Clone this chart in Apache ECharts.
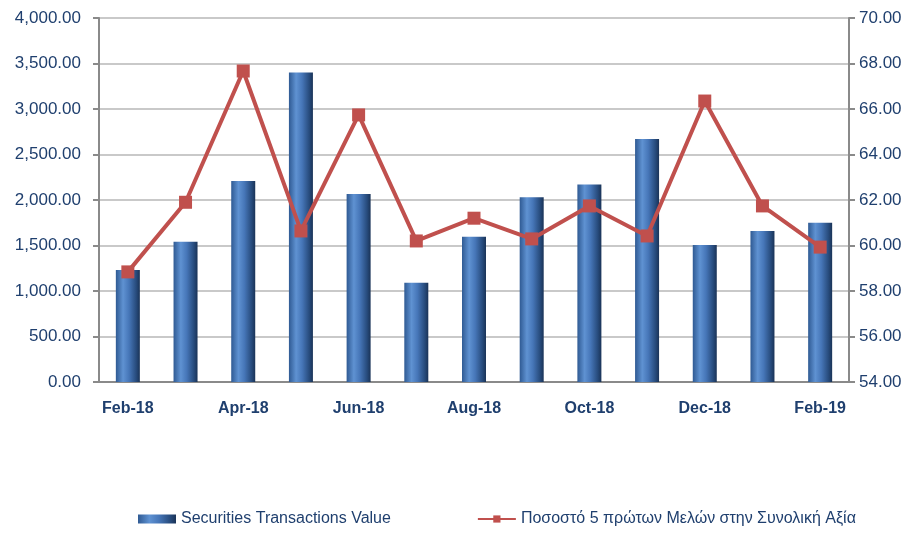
<!DOCTYPE html>
<html>
<head>
<meta charset="utf-8">
<script src="https://cdn.jsdelivr.net/npm/echarts@6/dist/echarts.min.js"></script>
<style>
  html, body { margin: 0; padding: 0; background: #fff; }
  #chart { width: 918px; height: 539px; }
</style>
</head>
<body>
<div id="chart"></div>
<script>
const months = ['Feb-18', 'Mar-18', 'Apr-18', 'May-18', 'Jun-18', 'Jul-18', 'Aug-18',
                'Sep-18', 'Oct-18', 'Nov-18', 'Dec-18', 'Jan-19', 'Feb-19'];
const transactionsValue = [1230, 1540, 2210, 3400, 2065, 1090, 1595, 2030, 2170, 2670, 1505, 1660, 1750];
const top5Share = [58.84, 61.9, 67.67, 60.64, 65.74, 60.2, 61.2, 60.29, 61.74, 60.42, 66.35, 61.74, 59.93];

const navy = '#1f3f6e';
const font = 'Liberation Sans, Arial, sans-serif';

const chart = echarts.init(document.getElementById('chart'));

const barGradient = new echarts.graphic.LinearGradient(0, 0, 1, 0, [
    { offset: 0, color: '#2f5a93' },
    { offset: 0.3, color: '#5f92d2' },
    { offset: 0.55, color: '#4676b8' },
    { offset: 0.85, color: '#274b7c' },
    { offset: 1, color: '#1a3357' }
]);

const fmt = v => v.toLocaleString('en-US', { minimumFractionDigits: 2, maximumFractionDigits: 2 });

chart.setOption({
    backgroundColor: '#fff',
    animation: false,
    textStyle: { fontFamily: font },
    grid: { left: 99, right: 69, top: 18, bottom: 157, show: true, borderColor: '#9a9a9a', borderWidth: 2 },
    legend: {
        bottom: 7,
        left: 133,
        itemGap: 86,
        itemWidth: 38,
        itemHeight: 9,
        textStyle: { color: navy, fontSize: 16, fontFamily: font },
        data: [
            { name: 'Securities Transactions Value', icon: 'rect' },
            { name: 'Ποσοστό 5 πρώτων Μελών στην Συνολική Αξία' }
        ]
    },
    xAxis: {
        type: 'category',
        data: months,
        axisLine: { lineStyle: { color: '#8a8a8a', width: 2 } },
        axisTick: { show: false },
        axisLabel: { color: navy, fontSize: 16, fontWeight: 'bold', interval: 1, margin: 19, fontFamily: font }
    },
    yAxis: [{
        type: 'value',
        min: 0, max: 4000, interval: 500,
        axisLine: { show: true, lineStyle: { color: '#8a8a8a', width: 2 } },
        axisTick: { show: true, length: 6, lineStyle: { color: '#8a8a8a', width: 2 } },
        axisLabel: { color: navy, fontSize: 17, margin: 18, formatter: fmt, fontFamily: font },
        splitLine: { lineStyle: { color: '#c9c9c9', width: 2 } }
    }, {
        type: 'value',
        min: 54, max: 70, interval: 2,
        position: 'right',
        axisLine: { show: true, lineStyle: { color: '#8a8a8a', width: 2 } },
        axisTick: { show: true, length: 6, lineStyle: { color: '#8a8a8a', width: 2 } },
        axisLabel: { color: navy, fontSize: 17, margin: 10, formatter: v => v.toFixed(2), fontFamily: font },
        splitLine: { show: false }
    }],
    series: [{
        name: 'Securities Transactions Value',
        type: 'bar',
        data: transactionsValue,
        barWidth: 24,
        itemStyle: { color: barGradient }
    }, {
        name: 'Ποσοστό 5 πρώτων Μελών στην Συνολική Αξία',
        type: 'line',
        yAxisIndex: 1,
        data: top5Share,
        symbol: 'rect',
        symbolSize: 13,
        lineStyle: { color: '#c0504d', width: 4 },
        itemStyle: { color: '#c0504d' }
    }]
});
</script>
</body>
</html>
